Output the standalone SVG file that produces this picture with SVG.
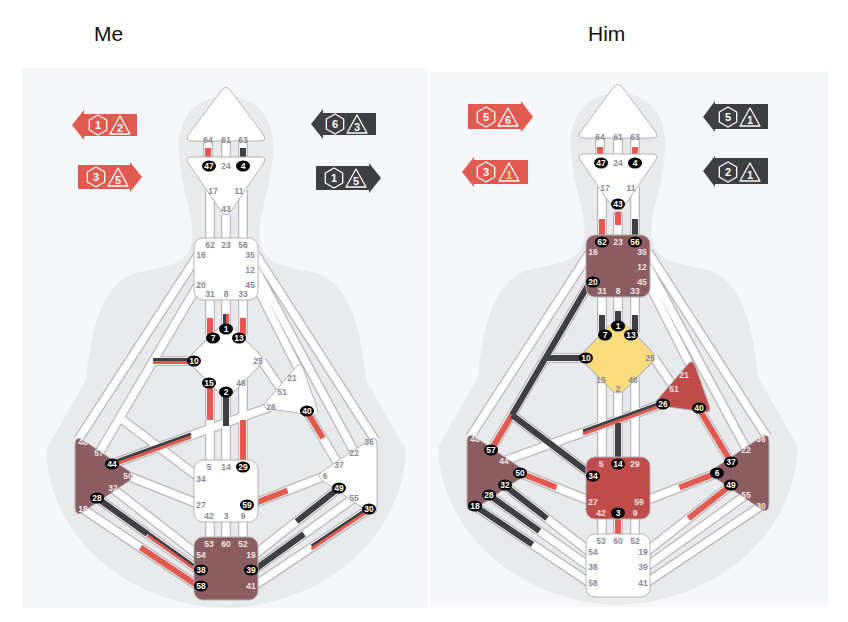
<svg xmlns="http://www.w3.org/2000/svg" width="848" height="622" viewBox="0 0 848 622">
<style>
text{font-family:"Liberation Sans",Arial,sans-serif}
.t{font-size:21px;fill:#111}
.l{font-size:8.5px;font-weight:bold;fill:#8c8898;text-anchor:middle;dominant-baseline:central}
.w{font-size:8.5px;font-weight:bold;fill:#f4e4e4;text-anchor:middle;dominant-baseline:central}
.bt{font-size:8.5px;font-weight:bold;fill:#fff;text-anchor:middle;dominant-baseline:central}
.cb{fill:none;stroke:#b8b8bc;stroke-width:10}
.cw{fill:none;stroke:#fff;stroke-width:7.5}
.r{fill:none;stroke:#e05a50;stroke-width:6}
.d{fill:none;stroke:#3e3f43;stroke-width:6}
.r2{fill:none;stroke:#e05a50;stroke-width:3}
.d2{fill:none;stroke:#3e3f43;stroke-width:3}
.c{stroke:#b4b4b8;stroke-width:1;stroke-linejoin:round}
.sil{fill:#e9eaec}
.at{font-size:11px;font-weight:bold;fill:#fff;text-anchor:middle;dominant-baseline:central}
.sym{fill:none;stroke:#fff;stroke-width:1.3;stroke-linejoin:round}
</style>
<defs>
<g id="base">
<path class="cb" d="M208,140V158M226,140V158M243,140V158M210,190V240M226,215V240M243,190V240M210,300V335M226,300V328M243,300V335M210,380V460M226,392V460M243,380V460M210,522V537M226,522V537M243,522V537M198,255L78,440M198,285L99,453M190,361H153M201,479L120,418M256,255L375,440M256,270L355,453M256,285L300,372M262,361L283,392M270,407L112,464M307,412L339,465M201,505L128,476M250,505L325,476M198,555L112,488M198,570L97,498M198,586L83,509M254,555L339,488M254,570L354,498M254,586L369,509"/>
<path class="cw" d="M208,140V158M226,140V158M243,140V158M210,190V240M226,215V240M243,190V240M210,300V335M226,300V328M243,300V335M210,380V460M226,392V460M243,380V460M210,522V537M226,522V537M243,522V537M198,255L78,440M198,285L99,453M190,361H153M201,479L120,418M256,255L375,440M256,270L355,453M256,285L300,372M262,361L283,392M270,407L112,464M307,412L339,465M201,505L128,476M250,505L325,476M198,555L112,488M198,570L97,498M198,586L83,509M254,555L339,488M254,570L354,498M254,586L369,509"/>
</g>
<path id="hex" d="M0,-10L8.7,-5L8.7,5L0,10L-8.7,5L-8.7,-5Z"/>
<path id="tri" d="M0,-10L10,8L-10,8Z"/>
</defs>
<rect width="848" height="622" fill="#fff"/>
<rect x="22" y="68" width="406" height="540" fill="#f6f7fb"/>
<rect x="430" y="72" width="398" height="535" fill="#f6f7fb"/>
<text class="t" x="94" y="41">Me</text>
<text class="t" x="588" y="41">Him</text>

<g id="arrows">
<g id="me-a1"><path fill="#e05a50" d="M72,125L84,110V114H137V136H84V140Z"/><use href="#hex" x="98" y="125" class="sym"/><use href="#tri" x="120" y="126" class="sym"/><text class="at" x="98" y="125">1</text><text class="at" x="120" y="128">2</text></g>
<g id="me-a2"><path fill="#e05a50" d="M142,177L130,162V165H78V189H130V192Z"/><use href="#hex" x="96" y="177" class="sym"/><use href="#tri" x="118" y="178" class="sym"/><text class="at" x="96" y="177">3</text><text class="at" x="118" y="180">5</text></g>
<g id="me-a3"><path fill="#3e3f43" d="M311,124L323,109V113H376V135H323V139Z"/><use href="#hex" x="335" y="124" class="sym"/><use href="#tri" x="357" y="125" class="sym"/><text class="at" x="335" y="124">6</text><text class="at" x="357" y="127">3</text></g>
<g id="me-a4"><path fill="#3e3f43" d="M381,178L369,163V166H316V190H369V193Z"/><use href="#hex" x="334" y="178" class="sym"/><use href="#tri" x="356" y="179" class="sym"/><text class="at" x="334" y="178">1</text><text class="at" x="356" y="181">5</text></g>
<g id="him-a1"><path fill="#e05a50" d="M533,117L521,101V104H468V129H521V132Z"/><use href="#hex" x="486" y="117" class="sym"/><use href="#tri" x="508" y="118" class="sym"/><text class="at" x="486" y="117">5</text><text class="at" x="508" y="120">6</text></g>
<g id="him-a2"><path fill="#e05a50" d="M462,172L474,157V160H528V184H474V187Z"/><use href="#hex" x="486" y="172" class="sym"/><use href="#tri" x="509" y="173" class="sym"/><text class="at" x="486" y="172">3</text><text class="at" x="509" y="175" style="fill:#f7e06a">1</text></g>
<g id="him-a3"><path fill="#3e3f43" d="M703,117L715,101V104H768V129H715V132Z"/><use href="#hex" x="728" y="117" class="sym"/><use href="#tri" x="750" y="118" class="sym"/><text class="at" x="728" y="117">5</text><text class="at" x="750" y="120">1</text></g>
<g id="him-a4"><path fill="#3e3f43" d="M703,171L715,156V158H768V184H715V187Z"/><use href="#hex" x="728" y="172" class="sym"/><use href="#tri" x="750" y="173" class="sym"/><text class="at" x="728" y="172">2</text><text class="at" x="750" y="175">1</text></g>
</g>

<!-- ME CHART -->
<g id="me">
<path class="sil" d="M226,96C196,96 176,118 179,155C182,195 195,215 192,240C190,262 172,266 140,272C105,280 92,320 86,380L46,450C50,540 130,605 226,608C322,605 402,540 406,450L366,380C360,320 347,280 312,272C280,266 262,262 260,240C257,215 270,195 273,155C276,118 256,96 226,96Z"/>
<g id="me-connectors">
<use href="#base"/>
<path class="r" d="M208,158V148"/>
<path class="d" d="M243,158V148"/>
<path class="d2" d="M224.5,328V314"/><path class="r2" d="M227.5,328V314"/>
<path class="r" d="M210,335V318M243,335V318M210,380V420M243,460V420M307,412L323,438M198,586L140.5,547.5M250,505L287.5,490.5"/>
<path class="d2" d="M190,359.5H153"/><path class="r2" d="M190,362.5H153"/>
<path class="d" d="M226,392V426M97,498L147.5,534M339,488L296.5,521.5M254,570L304,534"/>
<path class="d2" d="M112,462.5L191,434"/><path class="r2" d="M112,465.5L191,437"/>
<path class="d2" d="M147.5,532.5L198,568.5"/><path class="r2" d="M147.5,535.5L198,571.5"/>
<path class="d2" d="M369,507.5L311.5,546"/><path class="r2" d="M369,510.5L311.5,549"/>
</g>
<g id="me-head"><path class="c" fill="#fff" d="M221,91Q226,84 231,91L263,134Q268,141 260,141H192Q184,141 189,134Z"/><text class="l" x="208" y="140">64</text><text class="l" x="226" y="140">61</text><text class="l" x="243" y="140">63</text></g>
<g id="me-ajna"><path class="c" fill="#fff" d="M192,157H260Q268,157 263,164L231,211Q226,218 221,211L189,164Q184,157 192,157Z"/><ellipse cx="209" cy="166" rx="7" ry="5.5"/><text class="bt" x="209" y="166">47</text><text class="l" x="226" y="166">24</text><ellipse cx="243" cy="166" rx="7" ry="5.5"/><text class="bt" x="243" y="166">4</text><text class="l" x="213" y="191">17</text><text class="l" x="239" y="191">11</text><text class="l" x="226" y="209">43</text></g>
<g id="me-throat"><rect class="c" fill="#fff" x="194" y="238" width="64" height="62" rx="9"/><text class="l" x="210" y="245">62</text><text class="l" x="226" y="245">23</text><text class="l" x="243" y="245">56</text><text class="l" x="201" y="255">16</text><text class="l" x="250" y="255">35</text><text class="l" x="250" y="270">12</text><text class="l" x="201" y="285">20</text><text class="l" x="250" y="285">45</text><text class="l" x="210" y="294">31</text><text class="l" x="226" y="294">8</text><text class="l" x="243" y="294">33</text></g>
<g id="me-g"><rect class="c" fill="#fff" x="198" y="332" width="56" height="56" rx="9" transform="rotate(45 226 360)"/><ellipse cx="226" cy="329" rx="7" ry="5.5"/><text class="bt" x="226" y="329">1</text><ellipse cx="213" cy="338" rx="7" ry="5.5"/><text class="bt" x="213" y="338">7</text><ellipse cx="239" cy="338" rx="7" ry="5.5"/><text class="bt" x="239" y="338">13</text><ellipse cx="194" cy="361" rx="7" ry="5.5"/><text class="bt" x="194" y="361">10</text><text class="l" x="258" y="361">25</text><ellipse cx="209" cy="383" rx="7" ry="5.5"/><text class="bt" x="209" y="383">15</text><text class="l" x="241" y="383">46</text><ellipse cx="226" cy="392" rx="7" ry="5.5"/><text class="bt" x="226" y="392">2</text></g>
<g id="me-heart"><path class="c" fill="#fff" d="M296,367Q300,362 303,368L317,408Q320,416 312,415L270,409Q261,408 266,402Z"/><text class="l" x="292" y="378">21</text><text class="l" x="282" y="392">51</text><text class="l" x="271" y="407">26</text><ellipse cx="307" cy="411" rx="7" ry="5.5"/><text class="bt" x="307" y="411">40</text></g>
<g id="me-spleen"><path class="c" fill="#8b5d60" d="M75,445Q75,435 83,440L129,471Q136,476 129,481L83,512Q75,517 75,507Z"/><text class="w" x="83" y="442">48</text><text class="w" x="99" y="453">57</text><ellipse cx="112" cy="464" rx="7" ry="5.5"/><text class="bt" x="112" y="464">44</text><text class="w" x="128" y="476">50</text><text class="w" x="113" y="488">32</text><ellipse cx="97" cy="498" rx="7" ry="5.5"/><text class="bt" x="97" y="498">28</text><text class="w" x="83" y="509">18</text></g>
<g id="me-sp"><path class="c" fill="#fff" d="M377,445Q377,435 369,440L323,471Q316,476 323,481L369,512Q377,517 377,507Z"/><text class="l" x="369" y="442">36</text><text class="l" x="354" y="453">22</text><text class="l" x="339" y="465">37</text><text class="l" x="325" y="476">6</text><ellipse cx="339" cy="488" rx="7" ry="5.5"/><text class="bt" x="339" y="488">49</text><text class="l" x="354" y="498">55</text><ellipse cx="369" cy="509" rx="7" ry="5.5"/><text class="bt" x="369" y="509">30</text></g>
<g id="me-sacral"><rect class="c" fill="#fff" x="194" y="460" width="64" height="62" rx="9"/><text class="l" x="209" y="467">5</text><text class="l" x="226" y="467">14</text><ellipse cx="243" cy="467" rx="7" ry="5.5"/><text class="bt" x="243" y="467">29</text><text class="l" x="201" y="479">34</text><text class="l" x="201" y="505">27</text><ellipse cx="247" cy="505" rx="7" ry="5.5"/><text class="bt" x="247" y="505">59</text><text class="l" x="209" y="516">42</text><text class="l" x="226" y="516">3</text><text class="l" x="243" y="516">9</text></g>
<g id="me-root"><rect class="c" fill="#8b5d60" x="194" y="537" width="64" height="63" rx="9"/><text class="w" x="209" y="544">53</text><text class="w" x="226" y="544">60</text><text class="w" x="243" y="544">52</text><text class="w" x="201" y="555">54</text><text class="w" x="251" y="555">19</text><ellipse cx="201" cy="570" rx="7" ry="5.5"/><text class="bt" x="201" y="570">38</text><ellipse cx="251" cy="570" rx="7" ry="5.5"/><text class="bt" x="251" y="570">39</text><ellipse cx="201" cy="586" rx="7" ry="5.5"/><text class="bt" x="201" y="586">58</text><text class="w" x="251" y="586">41</text></g>
</g>

<!-- HIM CHART -->
<g id="him" transform="translate(392,-3)">
<path class="sil" d="M226,96C196,96 176,118 179,155C182,195 195,215 192,240C190,262 172,266 140,272C105,280 92,320 86,380L46,450C50,540 130,605 226,608C322,605 402,540 406,450L366,380C360,320 347,280 312,272C280,266 262,262 260,240C257,215 270,195 273,155C276,118 256,96 226,96Z"/>
<g id="him-connectors">
<use href="#base"/>
<path class="r" d="M208,158V150M243,158V150M210,240V222M226,215V228M120,418L99,453M307,412L339,465M128,476L164.5,490.5M325,476L287.5,490.5M339,488L296.5,521.5M226,522V537"/>
<path class="d" d="M243,240V222M210,335V318M226,328V314M243,335V318M198,285L120,418M190,361H153M201,479L120,418M226,460V426M112,488L155,521.5M97,498L147.5,534M83,509L140.5,547.5"/>
<path class="d2" d="M270,405.5L191,434"/><path class="r2" d="M270,408.5L191,437"/>
</g>
<g id="him-head"><path class="c" fill="#fff" d="M221,91Q226,84 231,91L263,134Q268,141 260,141H192Q184,141 189,134Z"/><text class="l" x="208" y="140">64</text><text class="l" x="226" y="140">61</text><text class="l" x="243" y="140">63</text></g>
<g id="him-ajna"><path class="c" fill="#fff" d="M192,157H260Q268,157 263,164L231,211Q226,218 221,211L189,164Q184,157 192,157Z"/><ellipse cx="209" cy="166" rx="7" ry="5.5"/><text class="bt" x="209" y="166">47</text><text class="l" x="226" y="166">24</text><ellipse cx="243" cy="166" rx="7" ry="5.5"/><text class="bt" x="243" y="166">4</text><text class="l" x="213" y="191">17</text><text class="l" x="239" y="191">11</text><ellipse cx="226" cy="207" rx="7" ry="5.5"/><text class="bt" x="226" y="207">43</text></g>
<g id="him-throat"><rect class="c" fill="#8b5d60" x="194" y="238" width="64" height="62" rx="9"/><ellipse cx="210" cy="245" rx="7" ry="5.5"/><text class="bt" x="210" y="245">62</text><text class="w" x="226" y="245">23</text><ellipse cx="243" cy="245" rx="7" ry="5.5"/><text class="bt" x="243" y="245">56</text><text class="w" x="201" y="255">16</text><text class="w" x="250" y="255">35</text><text class="w" x="250" y="270">12</text><ellipse cx="201" cy="285" rx="7" ry="5.5"/><text class="bt" x="201" y="285">20</text><text class="w" x="250" y="285">45</text><text class="w" x="210" y="294">31</text><text class="w" x="226" y="294">8</text><text class="w" x="243" y="294">33</text></g>
<g id="him-g"><rect class="c" fill="#f8dc7e" x="198" y="332" width="56" height="56" rx="9" transform="rotate(45 226 360)"/><ellipse cx="226" cy="329" rx="7" ry="5.5"/><text class="bt" x="226" y="329">1</text><ellipse cx="213" cy="338" rx="7" ry="5.5"/><text class="bt" x="213" y="338">7</text><ellipse cx="239" cy="338" rx="7" ry="5.5"/><text class="bt" x="239" y="338">13</text><ellipse cx="194" cy="361" rx="7" ry="5.5"/><text class="bt" x="194" y="361">10</text><text class="l" x="258" y="361">25</text><text class="l" x="209" y="383">15</text><text class="l" x="241" y="383">46</text><text class="l" x="226" y="392">2</text></g>
<g id="him-heart"><path class="c" fill="#c04b4b" d="M296,367Q300,362 303,368L317,408Q320,416 312,415L270,409Q261,408 266,402Z"/><text class="w" x="292" y="378">21</text><text class="w" x="282" y="392">51</text><ellipse cx="271" cy="407" rx="7" ry="5.5"/><text class="bt" x="271" y="407">26</text><ellipse cx="307" cy="411" rx="7" ry="5.5"/><text class="bt" x="307" y="411">40</text></g>
<g id="him-spleen"><path class="c" fill="#8b5d60" d="M75,445Q75,435 83,440L129,471Q136,476 129,481L83,512Q75,517 75,507Z"/><text class="w" x="83" y="442">48</text><ellipse cx="99" cy="453" rx="7" ry="5.5"/><text class="bt" x="99" y="453">57</text><text class="w" x="112" y="464">44</text><ellipse cx="128" cy="476" rx="7" ry="5.5"/><text class="bt" x="128" y="476">50</text><ellipse cx="113" cy="488" rx="7" ry="5.5"/><text class="bt" x="113" y="488">32</text><ellipse cx="97" cy="498" rx="7" ry="5.5"/><text class="bt" x="97" y="498">28</text><ellipse cx="83" cy="509" rx="7" ry="5.5"/><text class="bt" x="83" y="509">18</text></g>
<g id="him-sp"><path class="c" fill="#8b5d60" d="M377,445Q377,435 369,440L323,471Q316,476 323,481L369,512Q377,517 377,507Z"/><text class="w" x="369" y="442">36</text><text class="w" x="354" y="453">22</text><ellipse cx="339" cy="465" rx="7" ry="5.5"/><text class="bt" x="339" y="465">37</text><ellipse cx="325" cy="476" rx="7" ry="5.5"/><text class="bt" x="325" y="476">6</text><ellipse cx="339" cy="488" rx="7" ry="5.5"/><text class="bt" x="339" y="488">49</text><text class="w" x="354" y="498">55</text><text class="w" x="369" y="509">30</text></g>
<g id="him-sacral"><rect class="c" fill="#c04b4b" x="194" y="460" width="64" height="62" rx="9"/><text class="w" x="209" y="467">5</text><ellipse cx="226" cy="467" rx="7" ry="5.5"/><text class="bt" x="226" y="467">14</text><text class="w" x="243" y="467">29</text><ellipse cx="201" cy="479" rx="7" ry="5.5"/><text class="bt" x="201" y="479">34</text><text class="w" x="201" y="505">27</text><text class="w" x="247" y="505">59</text><text class="w" x="209" y="516">42</text><ellipse cx="226" cy="516" rx="7" ry="5.5"/><text class="bt" x="226" y="516">3</text><text class="w" x="243" y="516">9</text></g>
<g id="him-root"><rect class="c" fill="#fff" x="194" y="537" width="64" height="63" rx="9"/><text class="l" x="209" y="544">53</text><text class="l" x="226" y="544">60</text><text class="l" x="243" y="544">52</text><text class="l" x="201" y="555">54</text><text class="l" x="251" y="555">19</text><text class="l" x="201" y="570">38</text><text class="l" x="251" y="570">39</text><text class="l" x="201" y="586">58</text><text class="l" x="251" y="586">41</text></g>
</g>
</svg>
